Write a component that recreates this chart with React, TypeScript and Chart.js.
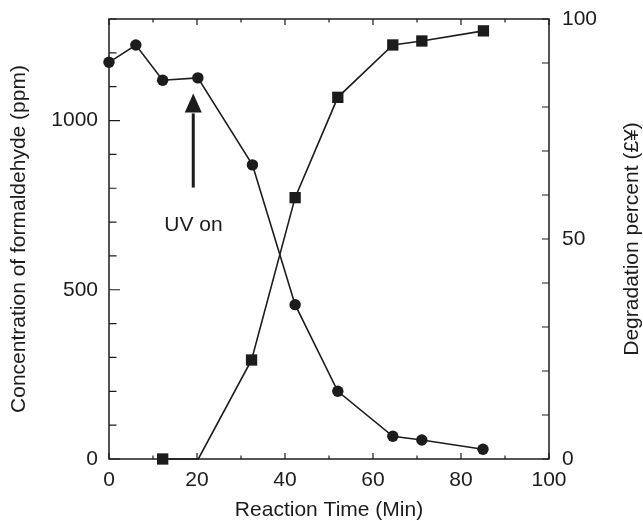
import React, { useEffect, useRef } from "react";
import { Chart, registerables } from "chart.js";

Chart.register(...registerables);

// ---- data ----
const concTime = [0, 6.1, 12.2, 20.2, 32.6, 42.3, 52.0, 64.5, 71.1, 85.0];
const concValues = [1172, 1223, 1119, 1126, 869, 456, 200, 67, 56, 29];
const degTime = [12.2, 20.3, 32.4, 42.3, 52.0, 64.5, 71.1, 85.1];
const degValues = [0, 0, 22.5, 59.4, 82.2, 94.1, 95.0, 97.3];
const degMarkerShown = [true, false, true, true, true, true, true, true];

const xTickLabels = [0, 20, 40, 60, 80, 100];
const leftTickLabels = [0, 500, 1000];
const rightTickLabels = [0, 50, 100];

const xTitle = "Reaction Time (Min)";
const leftTitle = "Concentration of formaldehyde (ppm)";
const rightTitle = "Degradation percent (\u00a3\u00a5)";

const arrowAt = { x: 19.15, tip: 1080, headBase: 1024, tail: 802 };
const arrowText = { x: 19.2, y: 690, text: "UV on" };

const FONT = "'Liberation Sans', Arial, Helvetica, sans-serif";
const FS = 21;
const INK = "#1c1c1c";

const framePlugin = {
  id: "frameAndTicks",
  afterDraw(chart: any) {
    const { ctx, chartArea } = chart;
    const { left, right, top, bottom } = chartArea;
    const x = chart.scales.x;
    const yl = chart.scales.y;
    const yr = chart.scales.y2;
    ctx.save();
    ctx.strokeStyle = INK;
    ctx.lineWidth = 1.5;
    ctx.strokeRect(left, top, right - left, bottom - top);
    ctx.lineWidth = 1.2;
    ctx.beginPath();
    for (let v = 0; v <= 100; v += 10) {
      const px = x.getPixelForValue(v);
      const len = v % 20 === 0 ? 6 : 3.5;
      ctx.moveTo(px, bottom);
      ctx.lineTo(px, bottom - len);
      ctx.moveTo(px, top);
      ctx.lineTo(px, top + len);
    }
    for (let v = 0; v <= 1300; v += 100) {
      const py = yl.getPixelForValue(v);
      const len = v % 500 === 0 ? 11 : 7.5;
      ctx.moveTo(left, py);
      ctx.lineTo(left + len, py);
    }
    for (let v = 0; v <= 100; v += 10) {
      const py = yr.getPixelForValue(v);
      ctx.moveTo(right, py);
      ctx.lineTo(right - 7, py);
    }
    ctx.stroke();

    // arrow annotation
    const ax = x.getPixelForValue(arrowAt.x);
    const tipY = yl.getPixelForValue(arrowAt.tip);
    const baseY = yl.getPixelForValue(arrowAt.headBase);
    const tailY = yl.getPixelForValue(arrowAt.tail);
    ctx.lineWidth = 3;
    ctx.beginPath();
    ctx.moveTo(ax, tailY);
    ctx.lineTo(ax, baseY + 1);
    ctx.stroke();
    ctx.fillStyle = INK;
    ctx.beginPath();
    ctx.moveTo(ax, tipY);
    ctx.lineTo(ax - 8.5, baseY);
    ctx.lineTo(ax + 8.5, baseY);
    ctx.closePath();
    ctx.fill();

    ctx.font = `${FS}px ${FONT}`;
    ctx.textAlign = "center";
    ctx.textBaseline = "middle";
    ctx.fillText(arrowText.text, x.getPixelForValue(arrowText.x), yl.getPixelForValue(arrowText.y));

    // right axis title, reading bottom to top
    ctx.translate(632, (top + bottom) / 2);
    ctx.rotate(-Math.PI / 2);
    ctx.fillText(rightTitle, 0, 0);
    ctx.restore();
  },
};

export default function App() {
  const ref = useRef<HTMLCanvasElement | null>(null);
  useEffect(() => {
    if (!ref.current) return;
    const chart = new Chart(ref.current, {
      type: "scatter",
      data: {
        datasets: [
          {
            label: "Concentration",
            data: concTime.map((t, i) => ({ x: t, y: concValues[i] })),
            yAxisID: "y",
            showLine: true,
            borderColor: INK,
            backgroundColor: INK,
            borderWidth: 1.6,
            pointStyle: "circle",
            pointRadius: 5.7,
            pointBorderWidth: 0,
            clip: false as any,
          },
          {
            label: "Degradation",
            data: degTime.map((t, i) => ({ x: t, y: degValues[i] })),
            yAxisID: "y2",
            showLine: true,
            borderColor: INK,
            backgroundColor: INK,
            borderWidth: 1.6,
            pointStyle: "rect",
            pointRadius: degMarkerShown.map((s) => (s ? 8 : 0)),
            pointBorderWidth: 0,
            clip: false as any,
          },
        ],
      },
      options: {
        animation: false,
        responsive: false,
        layout: { padding: { top: 19, left: 0, right: 0, bottom: 0 } },
        plugins: { legend: { display: false }, tooltip: { enabled: false } },
        scales: {
          x: {
            type: "linear",
            min: 0,
            max: 100,
            afterBuildTicks: (s: any) => {
              s.ticks = xTickLabels.map((v) => ({ value: v }));
            },
            afterFit: (s: any) => {
              s.height = 64;
              s.paddingLeft = 0;
              s.paddingRight = 0;
            },
            grid: { display: false, drawTicks: false },
            border: { display: false },
            ticks: {
              padding: 9,
              color: INK,
              font: { family: FONT, size: FS },
              maxRotation: 0,
              callback: (v: any) => String(v),
            },
            title: {
              display: true,
              text: xTitle,
              color: INK,
              font: { family: FONT, size: FS },
              padding: { top: 0, bottom: 0 },
            },
          },
          y: {
            type: "linear",
            position: "left",
            min: 0,
            max: 1300,
            afterBuildTicks: (s: any) => {
              s.ticks = leftTickLabels.map((v) => ({ value: v }));
            },
            afterFit: (s: any) => {
              s.width = 109;
              s.paddingTop = 0;
              s.paddingBottom = 0;
            },
            grid: { display: false, drawTicks: false },
            border: { display: false },
            ticks: {
              padding: 11,
              color: INK,
              font: { family: FONT, size: FS },
              callback: (v: any) => String(v),
            },
            title: {
              display: true,
              text: leftTitle,
              color: INK,
              font: { family: FONT, size: FS },
              padding: { top: 7, bottom: 0 },
            },
          },
          y2: {
            type: "linear",
            position: "right",
            min: 0,
            max: 100,
            afterBuildTicks: (s: any) => {
              s.ticks = rightTickLabels.map((v) => ({ value: v }));
            },
            afterFit: (s: any) => {
              s.width = 94;
              s.paddingTop = 0;
              s.paddingBottom = 0;
            },
            grid: { display: false, drawTicks: false },
            border: { display: false },
            ticks: {
              padding: 13,
              color: INK,
              font: { family: FONT, size: FS },
              callback: (v: any) => String(v),
            },
          },
        },
      },
      plugins: [framePlugin],
    });
    return () => chart.destroy();
  }, []);
  return (
    <canvas
      ref={ref}
      width={643}
      height={523}
      style={{ position: "absolute", left: 0, top: 0, width: 643, height: 523 }}
    />
  );
}
